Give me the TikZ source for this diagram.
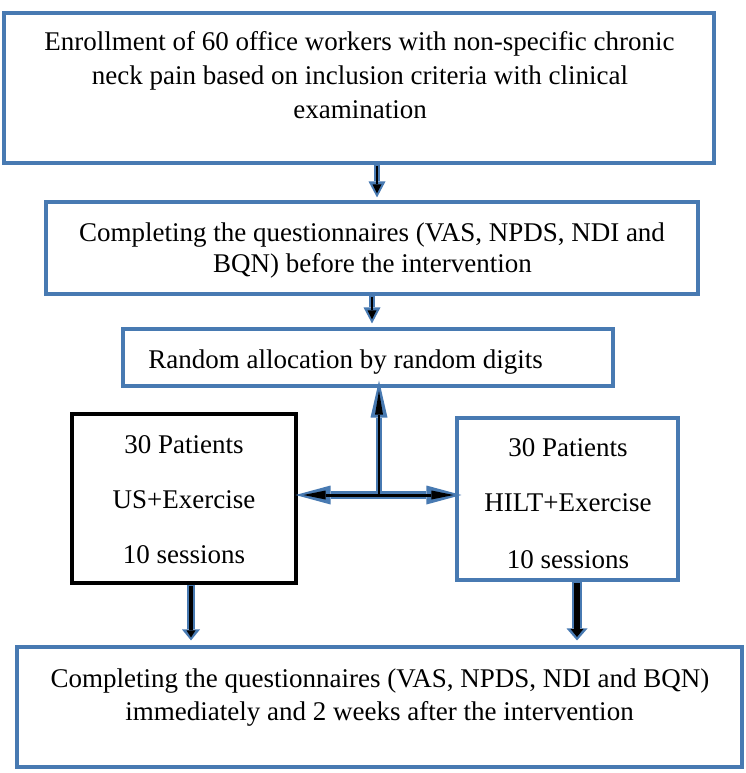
\documentclass[tikz,border=0pt]{standalone}
\usepackage{fontspec}
\setmainfont{Liberation Serif}
\usetikzlibrary{arrows.meta}
\definecolor{bblue}{RGB}{72,122,178}
\begin{document}
\begin{tikzpicture}[x=1pt,y=-1pt,
  box/.style={draw=bblue, line width=3.1pt, inner sep=0pt},
  bbox/.style={draw=black, line width=3.1pt, inner sep=0pt},
  txt/.style={anchor=base, inner sep=0pt, font=\fontsize{27}{33}\selectfont},
  outA/.style n args={3}{draw=bblue, line width=#1, -{Triangle[length=#2, width=#3, line width=0pt]}},
  inA/.style n args={3}{draw=black, line width=#1, -{Triangle[length=#2, width=#3, line width=0pt]}},
  outH/.style n args={3}{draw=bblue, line width=#1, {Triangle[length=#2, width=#3, line width=0pt]}-{Triangle[length=#2, width=#3, line width=0pt]}},
  inH/.style n args={3}{draw=black, line width=#1, {Triangle[length=#2, width=#3, line width=0pt]}-{Triangle[length=#2, width=#3, line width=0pt]}}
]
\useasboundingbox (0,0) rectangle (746,773);

% boxes
\node[box, minimum width=710pt, minimum height=150pt] (b1) at (359,88) {};
\node[box, minimum width=652pt, minimum height=92pt] (b2) at (372,248) {};
\node[box, minimum width=490pt, minimum height=57pt] (b3) at (368,357.5) {};
\node[bbox, minimum width=224pt, minimum height=169pt] (b4) at (184,498.5) {};
\node[box, minimum width=221pt, minimum height=162pt] (b5) at (567.5,499) {};
\node[box, minimum width=725pt, minimum height=120pt] (b6) at (379.5,707) {};

% texts
\node[txt] (t1a) at (359.5,51) {Enrollment of 60 office workers with non-specific chronic};
\node[txt] (t1b) at (360,84.5) {neck pain based on inclusion criteria with clinical};
\node[txt] (t1c) at (360,118) {examination};
\node[txt] (t2a) at (372,241) {Completing the questionnaires (VAS, NPDS, NDI and};
\node[txt] (t2b) at (372.5,272) {BQN) before the intervention};
\node[txt] (t3) at (345.5,368) {Random allocation by random digits};
\node[txt] (t4a) at (184,453) {30 Patients};
\node[txt] (t4b) at (184,508) {US+Exercise};
\node[txt] (t4c) at (184,563) {10 sessions};
\node[txt] (t5a) at (568,456) {30 Patients};
\node[txt] (t5b) at (568,511) {HILT+Exercise};
\node[txt] (t5c) at (568,568) {10 sessions};
\node[txt] (t6a) at (380,687) {Completing the questionnaires (VAS, NPDS, NDI and BQN)};
\node[txt] (t6b) at (379.5,720) {immediately and 2 weeks after the intervention};

% helper coordinates
\coordinate (x1) at (377,0);
\coordinate (x2) at (372,0);
\coordinate (j) at (379,495);
\coordinate (x4) at (191,0);
\coordinate (x5) at (577,0);

% arrow b1 -> b2
\draw[outA={5.5pt}{16pt}{17pt}, shorten >=3pt] (b1.south -| x1) -- (b2.north -| x1);
\draw[inA={2.5pt}{9pt}{9pt}, shorten <=1.5pt, shorten >=7pt] (b1.south -| x1) -- (b2.north -| x1);
% arrow b2 -> b3
\draw[outA={5.5pt}{16pt}{17pt}, shorten >=4pt] (b2.south -| x2) -- (b3.north -| x2);
\draw[inA={2.5pt}{9pt}{9pt}, shorten <=1.5pt, shorten >=8pt] (b2.south -| x2) -- (b3.north -| x2);
% up arrow and horizontal double arrow
\draw[outA={6.5pt}{37pt}{17pt}, shorten >=-7pt] (j) -- (b3.south -| j);
\draw[outH={7.5pt}{35pt}{19pt}, shorten <=-2pt, shorten >=-6pt] (b4.east |- j) -- (b5.west |- j);
\draw[inA={2.6pt}{24pt}{8pt}, shorten >=3pt] (j) -- (b3.south -| j);
\draw[inH={3pt}{22pt}{9pt}, shorten <=6pt, shorten >=2pt] (b4.east |- j) -- (b5.west |- j);
% arrow b4 -> b6
\draw[outA={8pt}{11pt}{18pt}, shorten >=5pt] (b4.south -| x4) -- (b6.north -| x4);
\draw[inA={3.5pt}{7pt}{9pt}, shorten <=1.5pt, shorten >=8pt] (b4.south -| x4) -- (b6.north -| x4);
% arrow b5 -> b6
\draw[outA={10pt}{12pt}{21pt}, shorten >=5pt] (b5.south -| x5) -- (b6.north -| x5);
\draw[inA={6pt}{8pt}{13pt}, shorten <=1.5pt, shorten >=8.5pt] (b5.south -| x5) -- (b6.north -| x5);
\end{tikzpicture}
\end{document}
